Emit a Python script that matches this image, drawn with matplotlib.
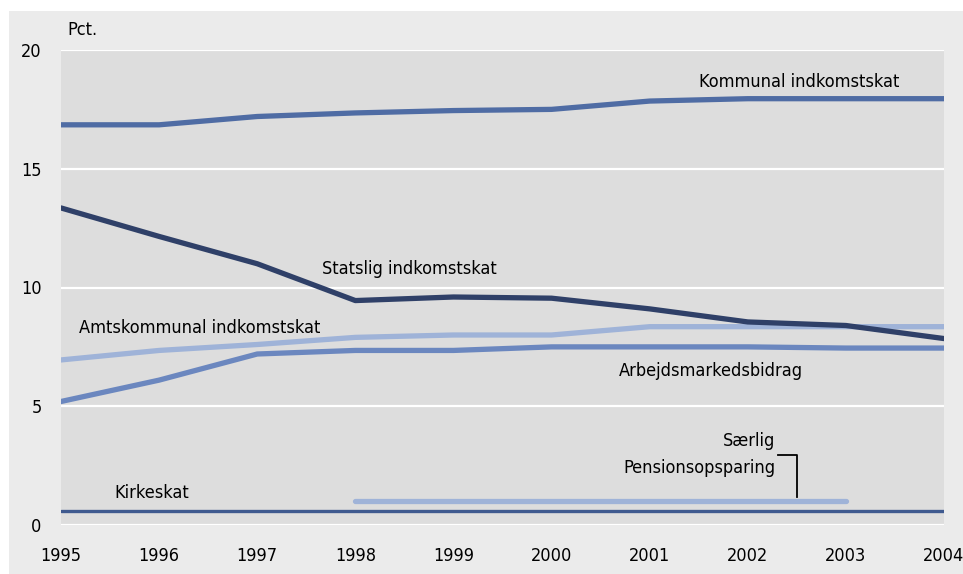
import matplotlib.pyplot as plt
from matplotlib.patches import Rectangle

plt.rcParams['font.family'] = ['DejaVu Sans']
plt.rcParams['font.stretch'] = 'condensed'

years = [1995, 1996, 1997, 1998, 1999, 2000, 2001, 2002, 2003, 2004]
kommunal = [16.85, 16.85, 17.2, 17.35, 17.45, 17.5, 17.85, 17.95, 17.95, 17.95]
statslig = [13.35, 12.15, 11.0, 9.45, 9.6, 9.55, 9.1, 8.55, 8.4, 7.85]
amtskommunal = [6.95, 7.35, 7.6, 7.9, 8.0, 8.0, 8.35, 8.35, 8.35, 8.35]
arbejdsmarked = [5.2, 6.1, 7.2, 7.35, 7.35, 7.5, 7.5, 7.5, 7.45, 7.45]
kirkeskat = [0.6] * 10
pension_years = [1998, 1999, 2000, 2001, 2002, 2003]
pension = [1.0] * 6

fig = plt.figure(figsize=(9.63, 5.74), dpi=100)
fig.patch.set_facecolor('white')
fig.patches.append(Rectangle((9 / 963, 0), 1, 1 - 11 / 574, transform=fig.transFigure,
                             facecolor='#ebebeb', edgecolor='none', zorder=-10))

ax = fig.add_axes([61 / 963, 1 - 525 / 574, (944 - 61) / 963, (525 - 50) / 574])
ax.set_facecolor('#dddddd')
for s in ax.spines.values():
    s.set_visible(False)
ax.set_xlim(1995, 2004)
ax.set_ylim(0, 20)
ax.set_yticks([0, 5, 10, 15, 20])
ax.set_xticks(years)
ax.tick_params(length=0, labelsize=13, pad=14)
ax.tick_params(axis='x', pad=16)
ax.yaxis.grid(True, color='white', lw=1.6)
ax.set_axisbelow(True)

kw = dict(lw=3.8, solid_capstyle='round')
ax.plot(years, kirkeskat, color='#3f5a8f', lw=2.4, solid_capstyle='round')
ax.plot(pension_years, pension, color='#9fb3d8', **kw)
ax.plot(years, arbejdsmarked, color='#6b87bf', **kw)
ax.plot(years, amtskommunal, color='#9fb3d8', **kw)
ax.plot(years, statslig, color='#2f4068', **kw)
ax.plot(years, kommunal, color='#4f6ca4', **kw)

fs = 13
ax.text(2003.55, 18.65, 'Kommunal indkomstskat', ha='right', va='center', fontsize=fs)
ax.text(1997.66, 10.76, 'Statslig indkomstskat', ha='left', va='center', fontsize=fs)
ax.text(1995.18, 8.31, 'Amtskommunal indkomstskat', ha='left', va='center', fontsize=fs)
ax.text(2000.69, 6.5, 'Arbejdsmarkedsbidrag', ha='left', va='center', fontsize=fs)
ax.text(1995.54, 1.35, 'Kirkeskat', ha='left', va='center', fontsize=fs)
ax.text(2002.28, 3.54, 'Særlig', ha='right', va='center', fontsize=fs)
ax.text(2002.28, 2.4, 'Pensionsopsparing', ha='right', va='center', fontsize=fs)
ax.plot([2002.31, 2002.5, 2002.5], [2.95, 2.95, 1.18], color='black', lw=1.3)
fig.text(67 / 963, 1 - 30 / 574, 'Pct.', ha='left', va='center', fontsize=fs)

fig.savefig('out.png', dpi=100, facecolor=fig.get_facecolor())
